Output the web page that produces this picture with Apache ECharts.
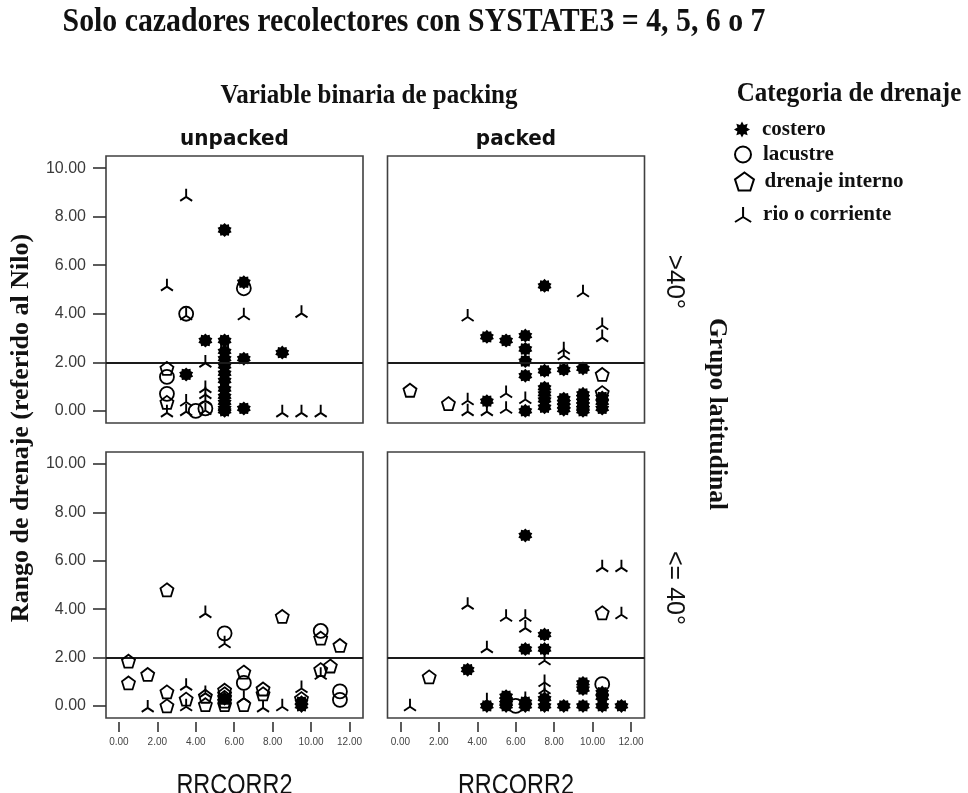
<!DOCTYPE html>
<html>
<head>
<meta charset="utf-8">
<script src="https://cdn.jsdelivr.net/npm/echarts@6/dist/echarts.min.js"></script>
<style>
  html, body { margin: 0; padding: 0; background: #ffffff; }
  #chart { width: 968px; height: 793px; }
</style>
</head>
<body>
<div id="chart"></div>
<script>
// Panel layout: columns = packing (unpacked / packed), rows = latitude group (>40° / <=40°)
const packingLevels = ['unpacked', 'packed'];
const latitudeLevels = ['>40°', '<= 40°'];
const categories = ['costero', 'lacustre', 'drenaje interno', 'rio o corriente'];
const xTicks = [0, 2, 4, 6, 8, 10, 12];
const yTicks = [0, 2, 4, 6, 8, 10];
const referenceLevel = 2;

// [RRCORR2, rango de drenaje] per panel and drainage category
// unpacked, >40°
const costeroUnpackedNorth = [[5.5,7.45],[6.5,5.3],[4.5,2.9],[5.5,2.9],[5.5,2.45],[5.5,2.15],[5.5,1.85],[5.5,1.55],[5.5,1.25],[5.5,0.9],[5.5,0.6],[5.5,0.35],[5.5,0.1],[5.5,0.0],[6.5,2.15],[8.5,2.4],[3.5,1.5],[6.5,0.1]];
const lacustreUnpackedNorth = [[6.5,5.05],[3.5,4.0],[2.5,1.4],[2.5,0.7],[4.0,0.0],[4.5,0.1]];
const internoUnpackedNorth = [[2.5,1.75],[2.5,0.35]];
const rioUnpackedNorth = [[3.5,8.9],[2.5,5.2],[6.5,4.0],[9.5,4.1],[3.5,4.0],[4.5,2.05],[4.5,1.0],[4.5,0.75],[4.5,0.5],[3.5,0.45],[3.5,0.05],[4.5,0.1],[2.5,0.0],[8.5,0.0],[9.5,0.0],[10.5,0.0]];

// packed, >40°
const costeroPackedNorth = [[4.5,3.05],[5.5,2.9],[4.5,0.4],[6.5,3.1],[6.5,2.55],[6.5,2.05],[6.5,1.45],[6.5,0.0],[7.5,5.15],[7.5,1.65],[7.5,0.95],[7.5,0.7],[7.5,0.45],[7.5,0.15],[8.5,1.7],[8.5,0.5],[8.5,0.35],[8.5,0.2],[8.5,0.05],[9.5,1.75],[9.5,0.7],[9.5,0.55],[9.5,0.4],[9.5,0.25],[9.5,0.1],[9.5,0.0],[10.5,0.55],[10.5,0.35],[10.5,0.1]];
const lacustrePackedNorth = [];
const internoPackedNorth = [[0.5,0.85],[2.5,0.3],[10.5,1.5],[10.5,0.75]];
const rioPackedNorth = [[3.5,3.95],[3.5,0.5],[3.5,0.05],[4.5,0.05],[5.5,0.8],[5.5,0.15],[6.5,0.55],[8.5,2.6],[8.5,2.35],[9.5,4.95],[10.5,3.6],[10.5,3.1]];

// unpacked, <=40°
const costeroUnpackedSouth = [[5.5,0.3],[9.5,0.15],[9.5,0.0]];
const lacustreUnpackedSouth = [[5.5,3.0],[10.5,3.1],[6.5,0.95],[11.5,0.6],[11.5,0.25]];
const internoUnpackedSouth = [[2.5,4.8],[8.5,3.7],[10.5,2.8],[11.5,2.5],[0.5,1.85],[0.5,0.95],[1.5,1.3],[2.5,0.58],[2.5,0.0],[3.5,0.28],[4.5,0.4],[4.5,0.05],[5.5,0.65],[5.5,0.5],[5.5,0.35],[5.5,0.2],[5.5,0.05],[6.5,1.4],[6.5,0.05],[7.5,0.7],[7.5,0.5],[9.5,0.3],[10.5,1.5],[11.0,1.65]];
const rioUnpackedSouth = [[4.5,3.9],[5.5,2.65],[1.5,0.0],[3.5,0.9],[3.5,0.05],[4.5,0.6],[6.5,0.4],[7.5,0.0],[8.5,0.05],[9.5,0.8],[10.5,1.35]];

// packed, <=40°
const costeroPackedSouth = [[3.5,1.5],[4.5,0.0],[5.5,0.4],[5.5,0.25],[5.5,0.1],[5.5,0.0],[6.5,7.05],[6.5,2.35],[6.5,0.15],[6.5,0.0],[7.5,2.95],[7.5,2.35],[7.5,0.3],[7.5,0.0],[8.5,0.0],[9.5,0.95],[9.5,0.7],[9.5,0.0],[10.5,0.55],[10.5,0.35],[10.5,0.0],[11.5,0.0]];
const lacustrePackedSouth = [[6.0,0.0],[10.5,0.9]];
const internoPackedSouth = [[1.5,1.2],[10.5,3.85]];
const rioPackedSouth = [[0.5,0.05],[3.5,4.25],[4.5,2.45],[4.5,0.3],[5.5,3.75],[6.5,3.75],[6.5,3.3],[6.5,0.35],[7.5,1.95],[7.5,1.05],[7.5,0.75],[7.5,0.5],[10.5,5.8],[11.5,5.8],[11.5,3.85]];

// panel order: top-left, top-right, bottom-left, bottom-right
const panelData = [
  [costeroUnpackedNorth, lacustreUnpackedNorth, internoUnpackedNorth, rioUnpackedNorth],
  [costeroPackedNorth, lacustrePackedNorth, internoPackedNorth, rioPackedNorth],
  [costeroUnpackedSouth, lacustreUnpackedSouth, internoUnpackedSouth, rioUnpackedSouth],
  [costeroPackedSouth, lacustrePackedSouth, internoPackedSouth, rioPackedSouth]
];

// ---- marker shapes ----
function sunPath(points, inner) {
  let d = '';
  for (let i = 0; i < points * 2; i++) {
    const a = Math.PI * i / points - Math.PI / 2;
    const r = i % 2 === 0 ? 50 : 50 * inner;
    const x = (50 + r * Math.cos(a)).toFixed(2);
    const y = (50 + r * Math.sin(a)).toFixed(2);
    d += (i === 0 ? 'M' : 'L') + x + ',' + y + ' ';
  }
  return 'path://' + d + 'Z';
}
const starSymbol = sunPath(10, 0.78);
const legendStarSymbol = sunPath(8, 0.62);
const pentagonSymbol = 'path://M50,0 L97.6,34.5 L79.4,90.5 L20.6,90.5 L2.4,34.5 Z';
const rioSymbol = 'path://M50,0 L50,52 M50,52 L8,78 M50,52 L92,78';

const ink = '#000000';
const markerStyles = [
  { symbol: starSymbol, symbolSize: 14, itemStyle: { color: ink, borderWidth: 0, opacity: 1 } },
  { symbol: 'circle', symbolSize: 14, itemStyle: { color: 'rgba(0,0,0,0)', borderColor: ink, borderWidth: 1.8, opacity: 1 } },
  { symbol: pentagonSymbol, symbolSize: 13, itemStyle: { color: 'rgba(0,0,0,0)', borderColor: ink, borderWidth: 1.8, opacity: 1 } },
  { symbol: rioSymbol, symbolSize: 12, itemStyle: { color: 'rgba(0,0,0,0)', borderColor: ink, borderWidth: 1.9, opacity: 1 } }
];

// ---- grids & axes ----
const xRange = [-0.67, 12.7];
const yRange = [-0.5, 10.5];
const gridBoxes = [
  { left: 106, top: 156, width: 257, height: 267 },
  { left: 387.5, top: 156, width: 257, height: 267 },
  { left: 106, top: 452, width: 257, height: 266 },
  { left: 387.5, top: 452, width: 257, height: 266 }
];
const grids = gridBoxes.map(b => Object.assign({
  show: true, borderColor: '#404040', borderWidth: 1.6, backgroundColor: '#ffffff'
}, b));

const xAxes = gridBoxes.map((b, i) => {
  const bottomRow = i >= 2;
  return {
    type: 'value', gridIndex: i, min: xRange[0], max: xRange[1], offset: 4,
    axisLine: { show: false, onZero: false },
    splitLine: { show: false },
    axisTick: { show: bottomRow, inside: false, customValues: xTicks, length: 10, lineStyle: { color: '#333', width: 1.6 } },
    axisLabel: { show: bottomRow, customValues: xTicks, margin: 15, color: '#444',
      fontFamily: '"Liberation Sans", Arial, sans-serif', fontSize: 10,
      formatter: v => v.toFixed(2) }
  };
});
const yAxes = gridBoxes.map((b, i) => {
  const leftCol = i % 2 === 0;
  return {
    type: 'value', gridIndex: i, min: yRange[0], max: yRange[1],
    axisLine: { show: false, onZero: false },
    splitLine: { show: false },
    axisTick: { show: leftCol, inside: false, customValues: yTicks, length: 13, lineStyle: { color: '#333', width: 1.6 } },
    axisLabel: { show: leftCol, customValues: yTicks, margin: 20, color: '#3a3a3a',
      fontFamily: '"Liberation Sans", Arial, sans-serif', fontSize: 16,
      formatter: v => v.toFixed(2) }
  };
});

// ---- series ----
const series = [];
panelData.forEach((sets, p) => {
  sets.forEach((pts, c) => {
    const s = Object.assign({
      name: categories[c], type: 'scatter', xAxisIndex: p, yAxisIndex: p,
      data: pts, z: 3 + c
    }, markerStyles[c]);
    if (c === 0) {
      s.markLine = {
        silent: true, symbol: ['none', 'none'], label: { show: false },
        lineStyle: { color: '#1a1a1a', width: 1.8, type: 'solid', opacity: 1 },
        data: [{ yAxis: referenceLevel }]
      };
    }
    series.push(s);
  });
});

// ---- legend: one block per category so the rows sit where they belong ----
const legendFont = { fontFamily: '"Liberation Serif", "Times New Roman", serif', fontWeight: 'bold', fontSize: 21, color: '#111' };
const legendRows = [
  { name: 'costero', top: 119, h: 16, icon: legendStarSymbol },
  { name: 'lacustre', top: 144, h: 16, icon: 'circle' },
  { name: 'drenaje interno', top: 171, h: 18, icon: pentagonSymbol },
  { name: 'rio o corriente', top: 204, h: 15, icon: rioSymbol }
];
const legends = legendRows.map(r => ({
  data: [{ name: r.name, icon: r.icon }], left: 734, top: r.top, itemWidth: 30, itemHeight: r.h,
  selectedMode: false, textStyle: legendFont, padding: 0
}));

// ---- text labels ----
const serifBold = '"Liberation Serif", "Times New Roman", serif';
const sans = '"Liberation Sans", Arial, sans-serif';
function label(text, x, y, font, opts) {
  return Object.assign({
    type: 'text', x: x, y: y,
    style: { text: text, font: font, fill: '#111', align: 'center', verticalAlign: 'middle' }
  }, opts || {});
}
const graphics = [
  label('Solo cazadores recolectores con SYSTATE3 = 4, 5, 6 o 7', 414, 23, 'bold 29.8px ' + serifBold, { scaleY: 1.1 }),
  label('Variable binaria de packing', 369, 96, 'bold 25px ' + serifBold, { scaleY: 1.12 }),
  label('Categoria de drenaje', 849, 94, 'bold 25px ' + serifBold, { scaleY: 1.12 }),
  label(packingLevels[0], 234.5, 139, 'bold 20px "DejaVu Sans", sans-serif', { scaleY: 1.08 }),
  label(packingLevels[1], 516, 139, 'bold 20px "DejaVu Sans", sans-serif', { scaleY: 1.08 }),
  label(latitudeLevels[0], 674, 282, '26px ' + sans, { rotation: -Math.PI / 2 }),
  label(latitudeLevels[1], 674, 588, '25px ' + sans, { rotation: -Math.PI / 2 }),
  label('Grupo latitudinal', 717, 414, 'bold 25.5px ' + serifBold, { rotation: -Math.PI / 2 }),
  label('Rango de drenaje (referido al Nilo)', 21, 428, 'bold 26px ' + serifBold, { rotation: Math.PI / 2 }),
  label('RRCORR2', 234.5, 786, '23.5px ' + sans, { scaleY: 1.22 }),
  label('RRCORR2', 516, 786, '23.5px ' + sans, { scaleY: 1.22 })
];

const chart = echarts.init(document.getElementById('chart'), null, { renderer: 'canvas' });
chart.setOption({
  backgroundColor: '#ffffff',
  animation: false,
  grid: grids,
  xAxis: xAxes,
  yAxis: yAxes,
  legend: legends,
  series: series,
  graphic: graphics
});
</script>
</body>
</html>
